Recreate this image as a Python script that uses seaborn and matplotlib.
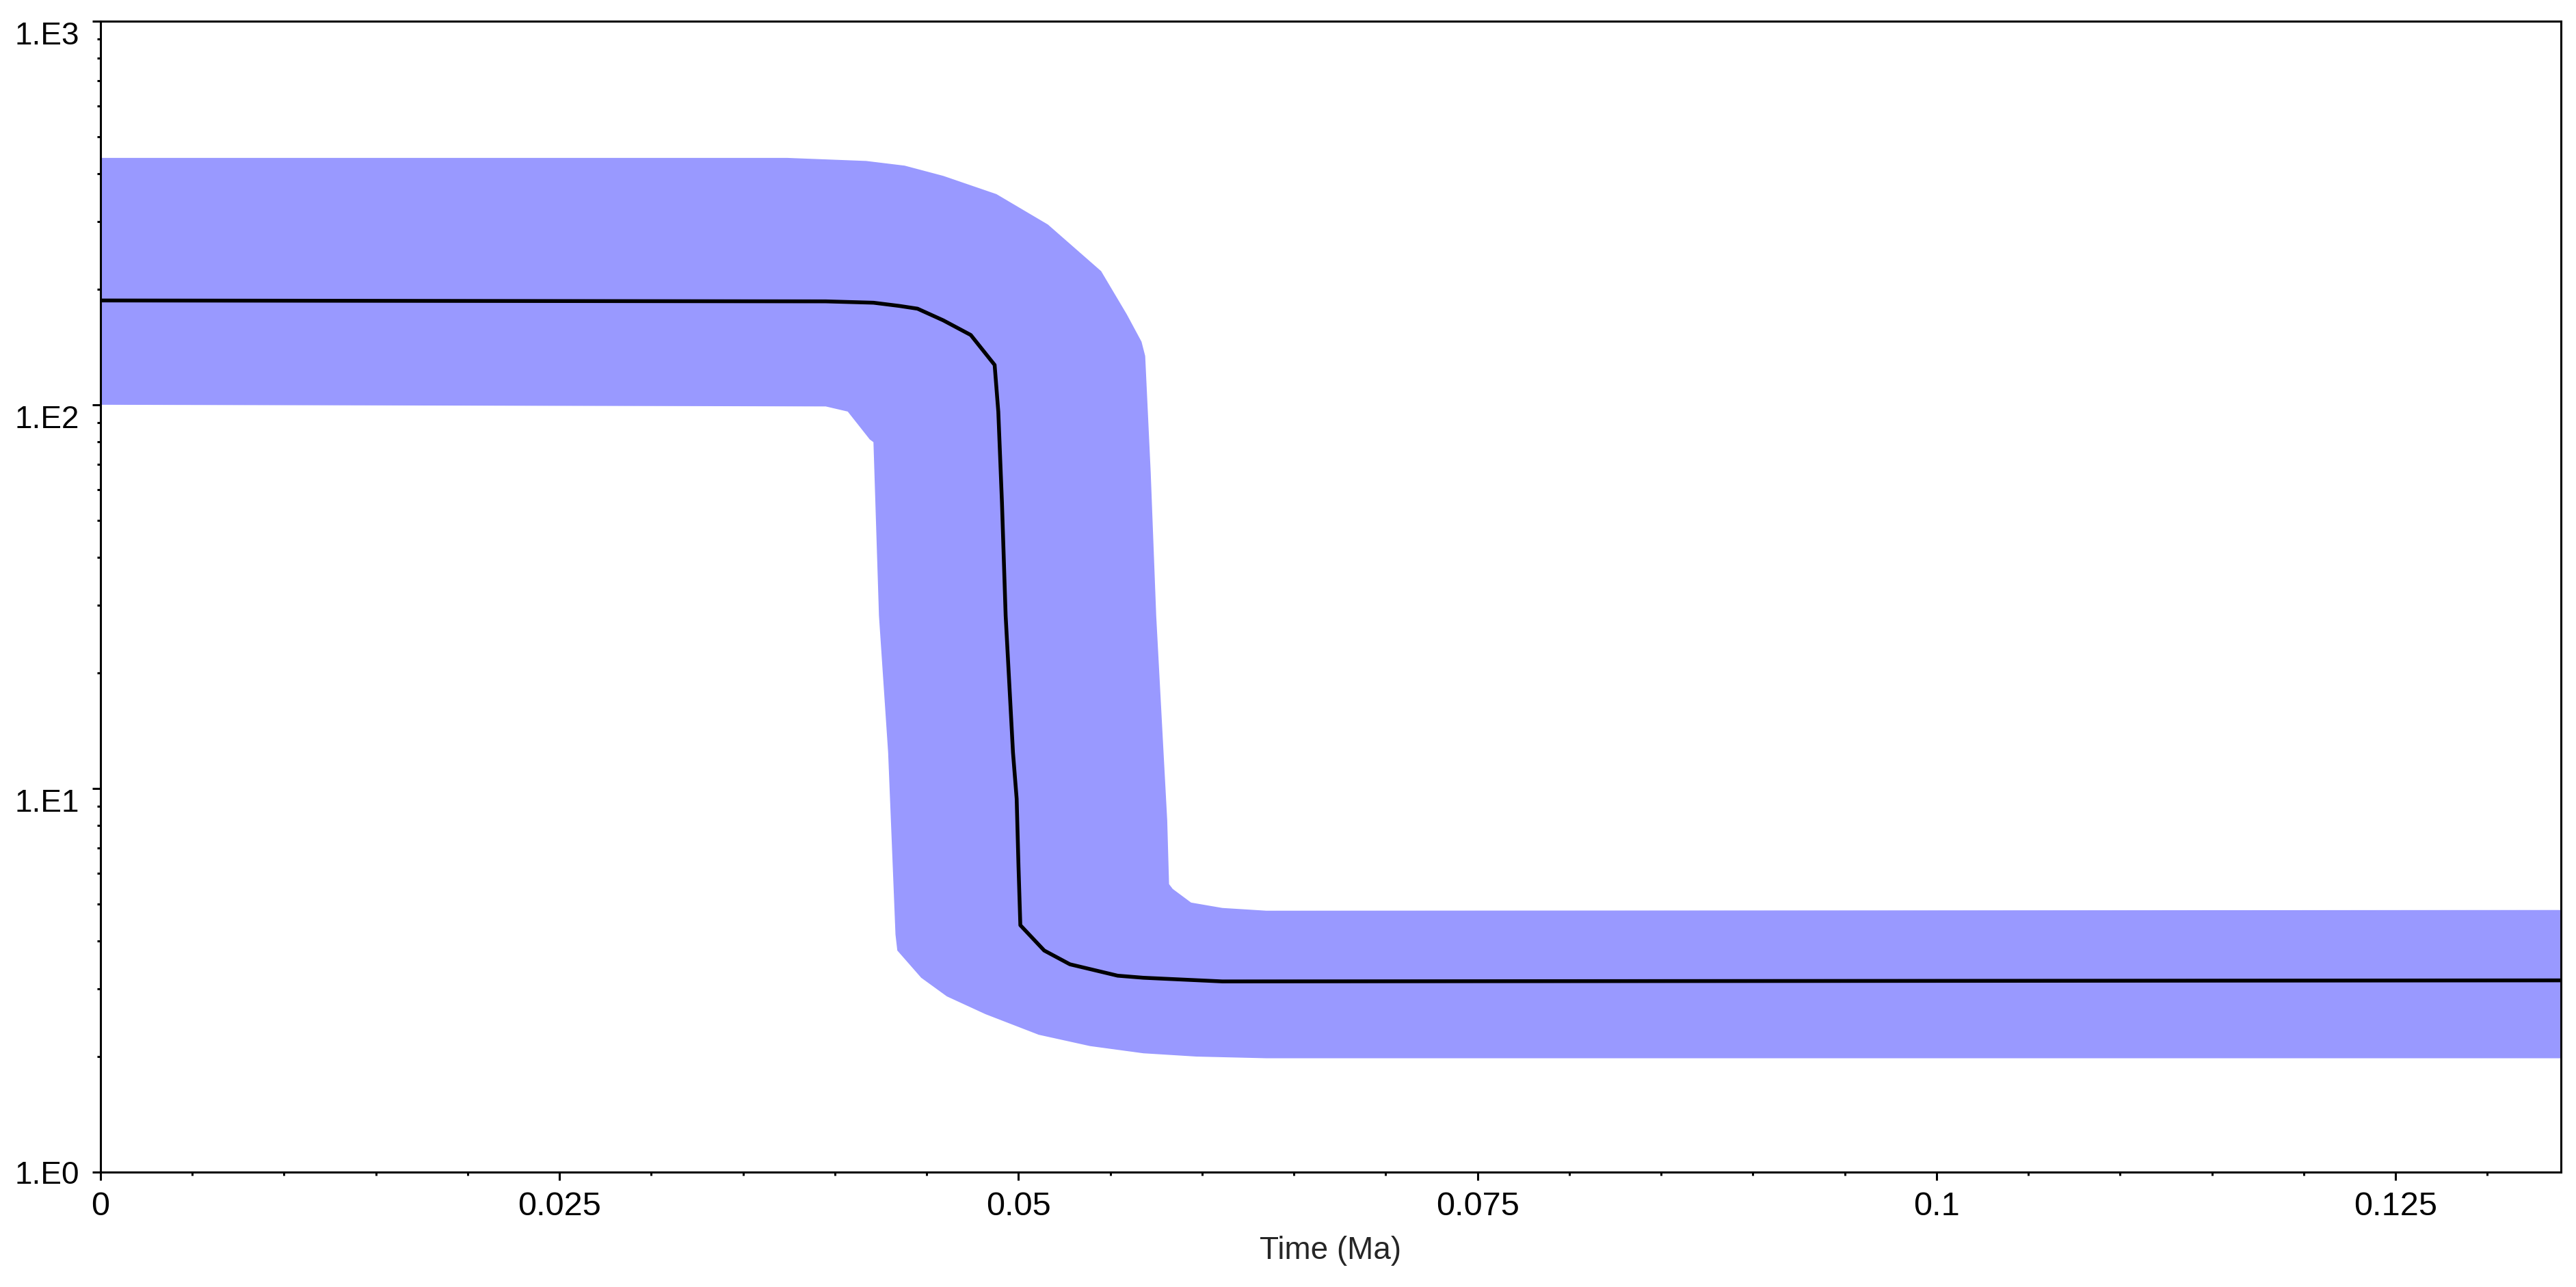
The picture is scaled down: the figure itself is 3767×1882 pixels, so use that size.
import numpy as np
import matplotlib
matplotlib.use("Agg")
import matplotlib.pyplot as plt
import matplotlib.ticker as mticker
import seaborn as sns

# Median population size through time (Ma)
median_time = [0.0, 0.0395, 0.0421, 0.0435, 0.0445, 0.0459, 0.0474, 0.0487,
               0.0489, 0.0491, 0.0493, 0.0497, 0.0499, 0.0500, 0.0501,
               0.0514, 0.0528, 0.0554, 0.0568, 0.0611, 0.134]
median_val = [187, 186, 184.5, 181, 178, 166, 152, 127,
              95.9, 55.4, 28.2, 12.4, 9.4, 6.26, 4.40,
              3.78, 3.48, 3.25, 3.21, 3.14, 3.16]

# upper 95% HPD edge
upper_time = [0.0, 0.0374, 0.0417, 0.0438, 0.0459, 0.0488, 0.0516, 0.0545,
              0.0559, 0.0567, 0.0569, 0.0572, 0.0575, 0.0579, 0.0581,
              0.0582, 0.0584, 0.0594, 0.0611, 0.0635, 0.134]
upper_val = [440, 440, 432, 420, 395, 354, 295, 223,
             172, 146, 134, 66.7, 28.2, 12.4, 8.25,
             5.63, 5.47, 5.04, 4.88, 4.80, 4.82]

# lower 95% HPD edge
lower_time = [0.0, 0.0395, 0.0407, 0.0419, 0.0421, 0.0424, 0.0429, 0.0431,
              0.0433, 0.0434, 0.0447, 0.0461, 0.0482, 0.0511, 0.0539,
              0.0568, 0.0597, 0.0635, 0.134]
lower_val = [100, 99, 96, 81.2, 79.9, 28.2, 12.4, 7.2,
             4.16, 3.78, 3.21, 2.87, 2.58, 2.28, 2.13,
             2.04, 2.00, 1.98, 1.98]

y_ticks = [1, 10, 100, 1000]
y_tick_labels = ["1.E0", "1.E1", "1.E2", "1.E3"]
x_ticks = [0, 0.025, 0.05, 0.075, 0.1, 0.125]
x_tick_labels = ["0", "0.025", "0.05", "0.075", "0.1", "0.125"]

sns.set_style("white")
plt.rcParams['font.family'] = ['Liberation Sans', 'DejaVu Sans']

fig = plt.figure(figsize=(37.67, 18.82), dpi=100)
ax = fig.add_axes([0.0390, 0.0893, 0.9551, 0.8943])

# shaded HPD band
band_x = np.concatenate([upper_time, lower_time[::-1]])
band_y = np.concatenate([upper_val, lower_val[::-1]])
ax.fill(band_x, band_y, color="#9999ff", linewidth=0, zorder=1)

sns.lineplot(x=median_time, y=median_val, ax=ax, color="black",
             linewidth=4, estimator=None, sort=False, zorder=3)

ax.set_yscale("log")
ax.set_xlim(0, 0.134)
ax.set_ylim(1, 1000)

ax.yaxis.set_major_locator(mticker.FixedLocator(y_ticks))
ax.yaxis.set_major_formatter(mticker.FixedFormatter(y_tick_labels))
ax.yaxis.set_minor_locator(mticker.LogLocator(base=10, subs=np.arange(2, 10)))
ax.yaxis.set_minor_formatter(mticker.NullFormatter())

ax.xaxis.set_major_locator(mticker.FixedLocator(x_ticks))
ax.xaxis.set_major_formatter(mticker.FixedFormatter(x_tick_labels))
ax.xaxis.set_minor_locator(mticker.MultipleLocator(0.005))

ax.tick_params(axis="both", which="major", direction="out", length=8.5,
               width=2.2, color="black", labelcolor="black")
ax.tick_params(axis="y", which="major", pad=14, labelsize=33)
ax.tick_params(axis="x", which="major", pad=12, labelsize=35)
ax.tick_params(axis="both", which="minor", direction="out", length=3.5,
               width=2.2, color="black")
ax.tick_params(left=True, bottom=True, which="both")

for sp in ax.spines.values():
    sp.set_visible(True)
    sp.set_color("black")
    sp.set_linewidth(2.2)

ax.set_xlabel("Time (Ma)", fontsize=33, labelpad=14)
ax.set_ylabel("")
ax.grid(False)

# upper y labels hang just below their tick, as in the original
fig.canvas.draw()
for lab in ax.get_yticklabels():
    if lab.get_text() != "1.E0":
        lab.set_va("top")

fig.savefig("out.png", dpi=100, facecolor="white")
